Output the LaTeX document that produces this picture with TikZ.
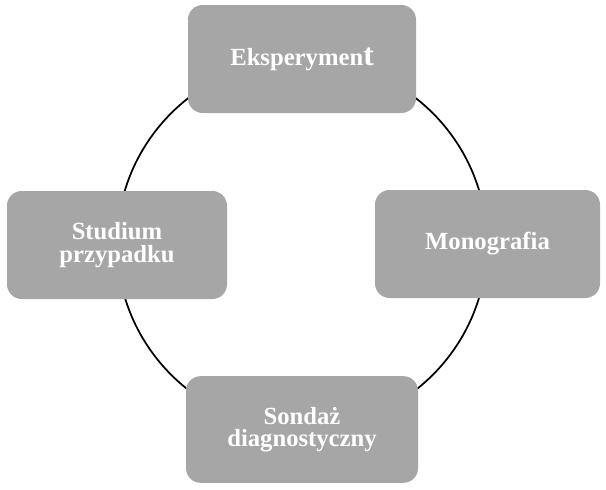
\documentclass[tikz,border=0pt]{standalone}
\usepackage{fontspec}
\setmainfont{Liberation Serif}
\definecolor{boxgray}{RGB}{166,166,166}
\usetikzlibrary{positioning}

\tikzset{
  method/.style={draw=none, fill=boxgray, rounded corners=11pt, inner sep=0pt,
    minimum height=81pt, text=white, align=center,
    font=\fontsize{18.5}{17}\selectfont\bfseries},
  ring/.style={black, line width=1.3pt}
}

\begin{document}
\begin{tikzpicture}[x=0.75pt, y=-0.75pt]
        \useasboundingbox (0,0) rectangle (606,489);
        % circle behind the boxes
        \coordinate (centre) at (302,244);
        \draw[ring] (centre) circle (185);
        \node[method, minimum width=171pt] (eksp) at (302,59) {Eksperymen{\fontsize{23.5}{17}\selectfont t}};
        \node[method, minimum width=168.75pt] (mono) at (487.5,244) {Monografia};
        \node[method, minimum width=165pt] (studium) at (117,245) {Studium\\przypadku};
        \node[method, minimum width=174pt, minimum height=80pt] (sondaz) at (302,429.5) {Sondaż\\diagnostyczny};
    \end{tikzpicture}
\end{document}
